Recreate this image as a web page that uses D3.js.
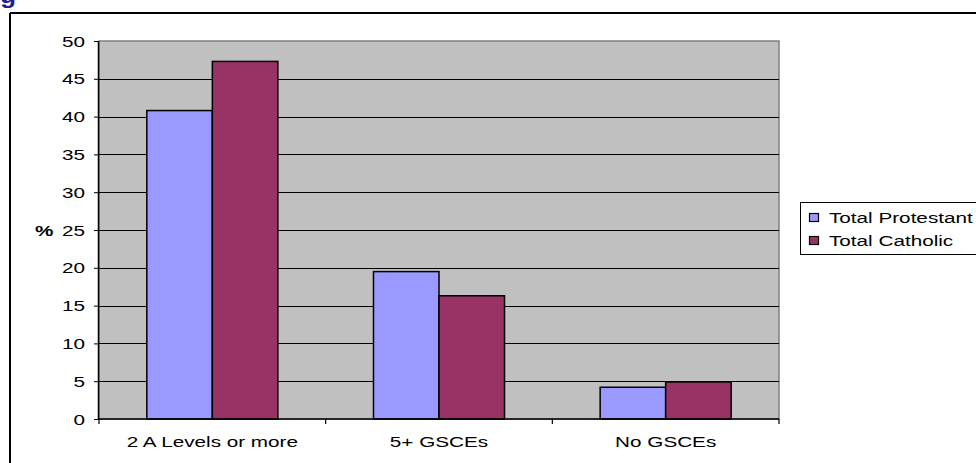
<!DOCTYPE html>
<html><head><meta charset="utf-8">
<script src="https://cdn.jsdelivr.net/npm/d3@7"></script>
<style>body{margin:0;background:#fff;}svg{display:block;font-family:"Liberation Sans",Arial,sans-serif;}</style>
</head><body>
<script>
const categories = ["2 A Levels or more", "5+ GSCEs", "No GSCEs"];
const seriesNames = ["Total Protestant", "Total Catholic"];
const protestant = [40.8, 19.5, 4.2];
const catholic = [47.3, 16.3, 4.9];
const yTicks = [0, 5, 10, 15, 20, 25, 30, 35, 40, 45, 50];
const colors = ["#9999FF", "#993366"];

const W = 976, H = 463;
const SX = 1.38, FS = 15;
const svg = d3.select("body").append("svg").attr("width", W).attr("height", H);

function stext(sel, x, y, str, anchor) {
  return sel.append("text").attr("transform", `translate(${x},${y}) scale(${SX},1)`)
    .attr("text-anchor", anchor || "start").attr("font-size", FS).attr("fill", "#000").text(str);
}

// cut-off title glyph
svg.append("text").attr("transform", "translate(0,3) scale(1.2,1)").attr("font-size", 22).attr("font-weight", "bold")
  .attr("fill", "#1f1f8f").text("g");

// outer frame
svg.append("line").attr("x1", 10).attr("x2", W).attr("y1", 13).attr("y2", 13).attr("stroke", "#000").attr("stroke-width", 2);
svg.append("line").attr("x1", 10).attr("x2", 10).attr("y1", 13).attr("y2", H).attr("stroke", "#000").attr("stroke-width", 2);

const L = 99, R = 779, T = 41, B = 419;
const x = d3.scaleBand().domain(categories).range([L, R]);
const y = d3.scaleLinear().domain([0, 50]).range([B, T]);

svg.append("rect").attr("x", L).attr("y", T).attr("width", R - L).attr("height", B - T)
  .attr("fill", "#C0C0C0").attr("stroke", "#808080").attr("stroke-width", 1.5);

// gridlines
svg.append("g").selectAll("line").data(yTicks.filter(d => d > 0 && d < 50)).join("line")
  .attr("x1", L).attr("x2", R).attr("y1", d => Math.round(y(d)) + 0.5).attr("y2", d => Math.round(y(d)) + 0.5)
  .attr("stroke", "#000").attr("stroke-width", 1);

// bars
const inner = d3.scaleBand().domain(seriesNames).range([0, x.bandwidth()]).paddingOuter(0.73).paddingInner(0);
const data = categories.map((c, i) => ({c, vals: [protestant[i], catholic[i]]}));
const g = svg.append("g");
data.forEach(d => {
  d.vals.forEach((v, j) => {
    g.append("rect")
      .attr("x", x(d.c) + inner(seriesNames[j]))
      .attr("y", y(v))
      .attr("width", inner.bandwidth())
      .attr("height", y(0) - y(v))
      .attr("fill", colors[j]).attr("stroke", "#000").attr("stroke-width", 1.5);
  });
});

// y axis
const yAxis = d3.axisLeft(y).tickValues(yTicks).tickSize(5).tickFormat("");
const ya = svg.append("g").attr("transform", `translate(${L},0)`).call(yAxis);
ya.select(".domain").attr("stroke", "#000").attr("stroke-width", 1.5).attr("d", `M-0.5,${T}V${B}`);
ya.selectAll("line").attr("stroke", "#000");
const yl = svg.append("g");
yTicks.forEach(t => stext(yl, 85, y(t) + 5.5, String(t), "end"));

// x axis
svg.append("line").attr("x1", L).attr("x2", R).attr("y1", B).attr("y2", B).attr("stroke", "#000").attr("stroke-width", 1.5);
const xa = svg.append("g");
[L, x(categories[1]), x(categories[2]), R].forEach(px => {
  xa.append("line").attr("x1", px).attr("x2", px).attr("y1", B).attr("y2", B + 5).attr("stroke", "#000").attr("stroke-width", 1.2);
});
categories.forEach(c => stext(xa, x(c) + x.bandwidth() / 2, 447, c, "middle"));

// y label
stext(svg, 35, 236, "%").attr("font-weight", "bold");

// legend
const lg = svg.append("g");
lg.append("rect").attr("x", 800.5).attr("y", 202.5).attr("width", 200).attr("height", 52).attr("fill", "#fff").attr("stroke", "#000").attr("stroke-width", 1);
seriesNames.forEach((s, i) => {
  const yy = 213 + i * 23;
  lg.append("rect").attr("x", 809.5).attr("y", yy + 0.5).attr("width", 9).attr("height", 8).attr("fill", colors[i]).attr("stroke", "#000").attr("stroke-width", 1.2);
  stext(lg, 829, yy + 9.5, s);
});
</script>
</body></html>
